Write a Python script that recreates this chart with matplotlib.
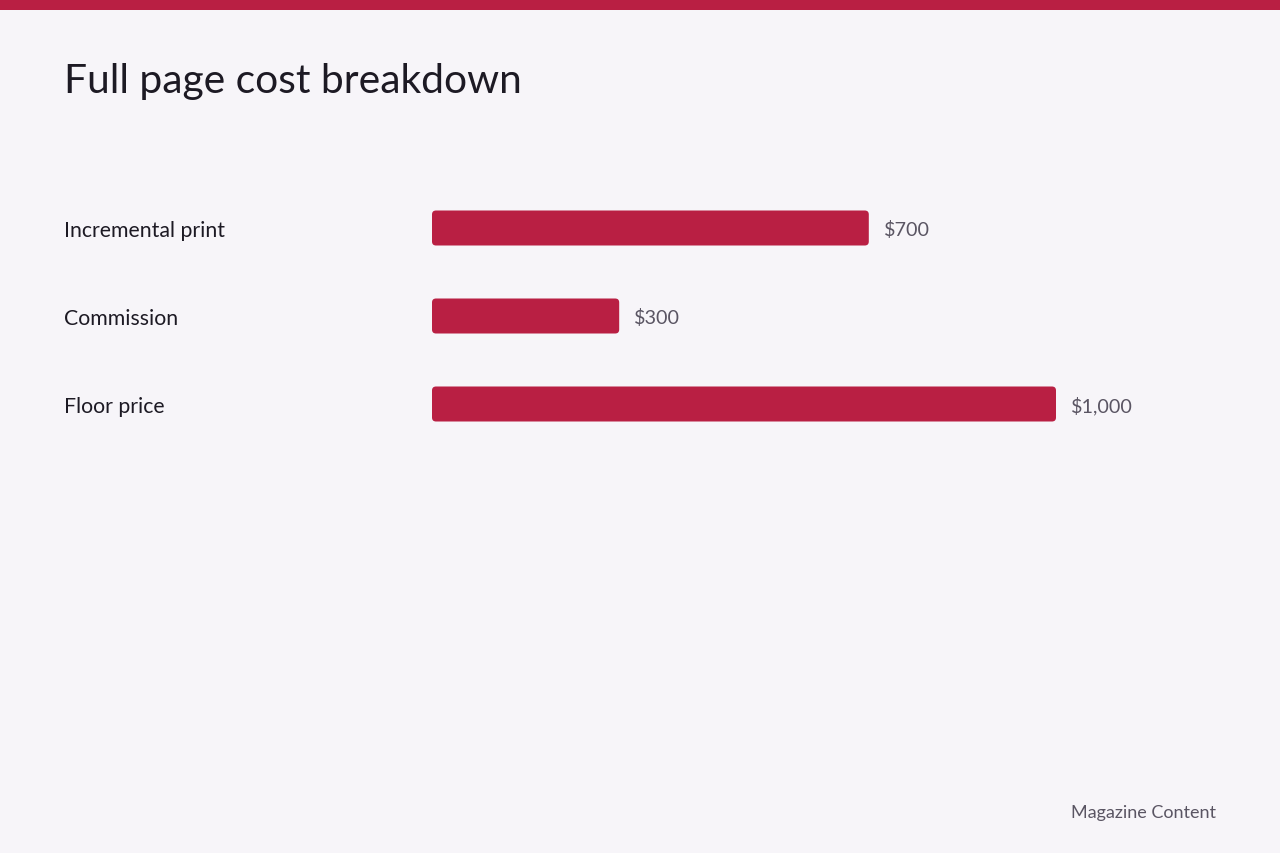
import matplotlib

matplotlib.use("Agg")
import matplotlib.pyplot as plt
from matplotlib.patches import FancyBboxPatch, Rectangle

# データ (上から順)
categories = ["Incremental print", "Commission", "Floor price"]
values = [700, 300, 1000]
value_labels = ["$700", "$300", "$1,000"]

title = "Full page cost breakdown"
source = "Magazine Content"

BG = "#f7f5f9"
RED = "#b91f43"
TEXT = "#1d1a24"
MUTED = "#5a5563"

W, H, DPI = 1280, 854, 100
plt.rcParams["font.family"] = ["Lato", "DejaVu Sans"]

fig = plt.figure(figsize=(W / DPI, H / DPI), dpi=DPI, facecolor=BG)

# 上端の赤帯
fig.patches.append(Rectangle((0, 1 - 11 / H), 1, 11 / H, transform=fig.transFigure,
                             facecolor=RED, edgecolor="none"))

fig.text(64 / W, 1 - 81 / H, title, fontsize=29.3, color=TEXT, ha="left", va="center")

# 棒グラフ領域: x=432..1056px が 0..1000, 各行 88px
ax_left, ax_right = 432, 1056
ax_top, ax_bottom = 185, 185 + 88 * len(categories)
ax = fig.add_axes([ax_left / W, 1 - ax_bottom / H, (ax_right - ax_left) / W,
                   (ax_bottom - ax_top) / H])
ax.set_facecolor("none")
ax.set_xlim(0, 1000)
ax.set_ylim(len(categories) - 0.5, -0.5)
ax.axis("off")

bar_h = 35 / 88
radius_px = 4
x_per_px = 1000 / (ax_right - ax_left)
y_per_px = 1 / 88
rs = radius_px * x_per_px
for i, (v, lab) in enumerate(zip(values, value_labels)):
    ax.add_patch(FancyBboxPatch((0, i - bar_h / 2), v, bar_h,
                                boxstyle=f"round,pad=0,rounding_size={rs}",
                                mutation_aspect=y_per_px / x_per_px,
                                facecolor=RED, edgecolor="none"))
    ax.annotate(lab, (v, i), xytext=(15, 0), textcoords="offset pixels",
                ha="left", va="center_baseline", fontsize=14.2, color=MUTED)
    # カテゴリ名は図の左端 (x=64px) に揃える
    ax.annotate(categories[i], (0, i), xytext=(64 - ax_left, 0), textcoords="offset pixels",
                ha="left", va="center_baseline", fontsize=15.3, color=TEXT)

fig.text(1216 / W, 1 - 812 / H, source, fontsize=13, color=MUTED, ha="right",
         va="center_baseline")

fig.savefig("out.png", dpi=DPI, facecolor=BG)
